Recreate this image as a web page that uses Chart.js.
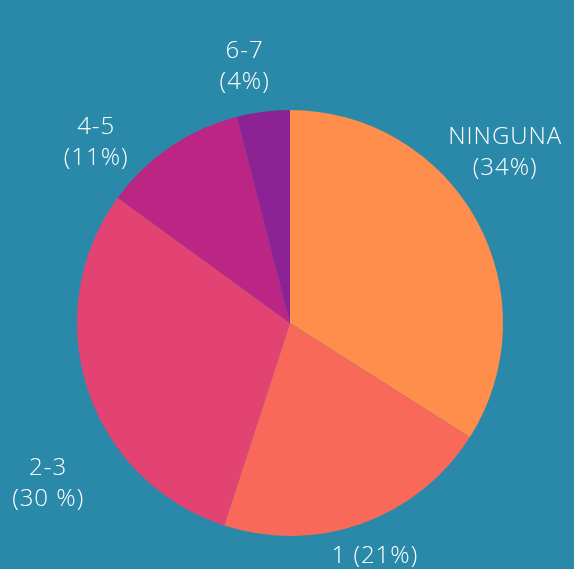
<!DOCTYPE html>
<html>
<head>
<meta charset="utf-8">
<script src="https://cdn.jsdelivr.net/npm/chart.js@4"></script>
<style>
  html, body { margin: 0; padding: 0; background: #2a89a9; }
  canvas { display: block; }
</style>
</head>
<body>
<canvas id="pie" width="574" height="569"></canvas>
<script>
const categories = ['NINGUNA', '1', '2-3', '4-5', '6-7']
const values = [34, 21, 30, 11, 4]
const pctLabels = ['(34%)', '(21%)', '(30 %)', '(11%)', '(4%)']
const colors = ['#ff8e4c', '#f8695a', '#e24373', '#bb2583', '#8d2294']

// label placement: distance from centre and angle, per slice
const labelDist = [275, 248, 290, 265, 261]
const labelAngle = [51.5, 160, 236.5, 313, 350]
const singleLine = [false, true, false, false, false]

const outsideLabels = {
  id: 'outsideLabels',
  afterDraw(chart) {
    const ctx = chart.ctx
    const arc = chart.getDatasetMeta(0).data[0]
    const cx = arc.x, cy = arc.y
    ctx.save()
    ctx.fillStyle = '#ffffff'
    ctx.font = '300 24px "Open Sans"'
    ctx.letterSpacing = '1px'
    ctx.textAlign = 'center'
    ctx.textBaseline = 'middle'
    categories.forEach((cat, i) => {
      const a = labelAngle[i] * Math.PI / 180
      const x = cx + Math.sin(a) * labelDist[i]
      const y = cy - Math.cos(a) * labelDist[i]
      if (singleLine[i]) {
        ctx.fillText(cat + ' ' + pctLabels[i], x, y)
      } else {
        ctx.fillText(cat, x, y - 15)
        ctx.fillText(pctLabels[i], x, y + 16)
      }
    })
    ctx.restore()
  }
}

new Chart(document.getElementById('pie'), {
  type: 'pie',
  data: {
    labels: categories,
    datasets: [{
      data: values,
      backgroundColor: colors,
      borderWidth: 0
    }]
  },
  options: {
    responsive: false,
    animation: false,
    layout: { padding: { left: 77, right: 71, top: 110, bottom: 33 } },
    plugins: {
      legend: { display: false },
      tooltip: { enabled: false }
    }
  },
  plugins: [outsideLabels]
})
</script>
</body>
</html>
